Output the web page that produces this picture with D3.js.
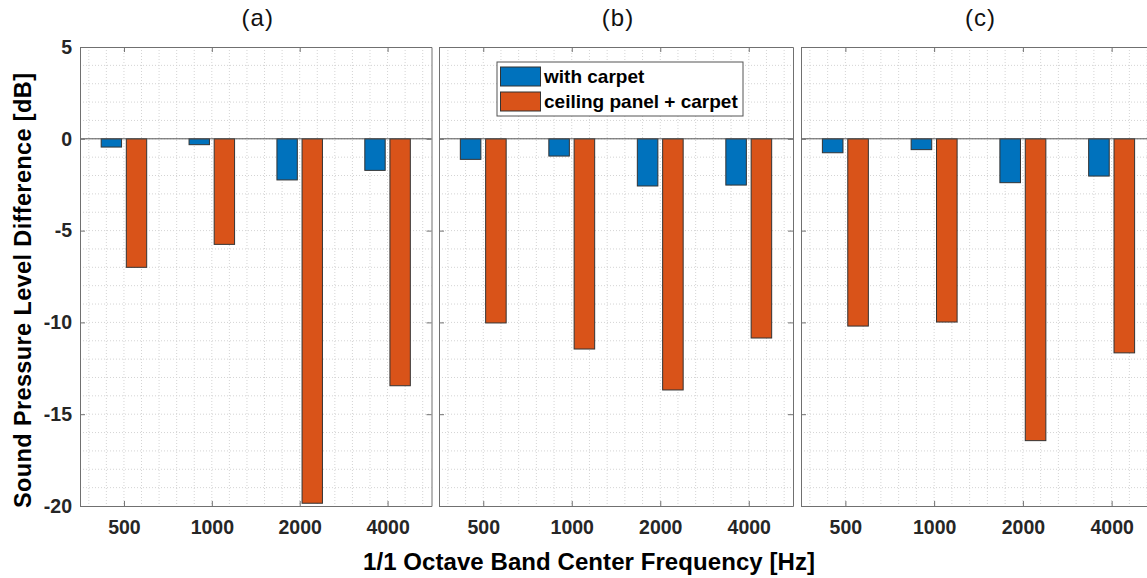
<!DOCTYPE html>
<html lang="en">
<head>
  <meta charset="UTF-8">
  <title>Sound Pressure Level Difference</title>
  <script src="https://d3js.org/d3.v7.min.js"></script>
  <style>
    body { margin: 0; background: #fff; }
    text { font-family: "Liberation Sans", Arial, sans-serif; }
  </style>
</head>
<body>
  <div id="chart"></div>

  <script>
    // categories and tick labels
    const bands = ["500", "1000", "2000", "4000"];
    const panelTitles = ["(a)", "(b)", "(c)"];
    const yTicks = [5, 0, -5, -10, -15, -20];
    const seriesNames = ["with carpet", "ceiling panel + carpet"];

    // values [dB]
    const carpetA = [-0.45, -0.32, -2.24, -1.72];
    const panelCarpetA = [-7.0, -5.75, -19.85, -13.45];
    const carpetB = [-1.12, -0.94, -2.57, -2.52];
    const panelCarpetB = [-10.03, -11.45, -13.68, -10.85];
    const carpetC = [-0.76, -0.59, -2.39, -2.03];
    const panelCarpetC = [-10.2, -9.98, -16.44, -11.66];

    const panels = [
      { title: panelTitles[0], s1: carpetA, s2: panelCarpetA, left: 80, right: 431.5 },
      { title: panelTitles[1], s1: carpetB, s2: panelCarpetB, left: 439, right: 793 },
      { title: panelTitles[2], s1: carpetC, s2: panelCarpetC, left: 801, right: 1156 }
    ];

    const colors = ["#0072BD", "#D95319"];
    const width = 1147, height = 578;
    const plotTop = 47, plotBottom = 506;

    const svg = d3.select("#chart").append("svg")
      .attr("width", width)
      .attr("height", height);

    const y = d3.scaleLinear().domain([-20, 5]).range([plotBottom, plotTop]);

    panels.forEach((p, pi) => {
      const x = d3.scaleLinear().domain([0.5, 4.5]).range([p.left, p.right]);
      const g = svg.append("g");

      // minor grid (dotted)
      const gx = d3.range(0.6, 4.41, 0.2);
      g.selectAll(".vgrid").data(gx).enter().append("line")
        .attr("x1", d => x(d)).attr("x2", d => x(d))
        .attr("y1", plotTop).attr("y2", plotBottom)
        .attr("stroke", "#d4d4d4").attr("stroke-dasharray", "1,2");
      const gy = d3.range(-19, 5, 1);
      g.selectAll(".hgrid").data(gy).enter().append("line")
        .attr("x1", p.left).attr("x2", p.right)
        .attr("y1", d => y(d)).attr("y2", d => y(d))
        .attr("stroke", "#d4d4d4").attr("stroke-dasharray", "1,2");

      // bars
      const offs = [-0.143, 0.143];
      const bw = 0.232;
      [p.s1, p.s2].forEach((vals, si) => {
        g.selectAll(".bar" + si).data(vals).enter().append("rect")
          .attr("x", (d, i) => x(i + 1 + offs[si] - bw / 2))
          .attr("width", x(bw) - x(0))
          .attr("y", d => y(Math.max(0, d)))
          .attr("height", d => Math.abs(y(d) - y(0)))
          .attr("fill", colors[si])
          .attr("stroke", "#333")
          .attr("stroke-width", 1);
      });

      // baseline
      g.append("line")
        .attr("x1", p.left).attr("x2", p.right)
        .attr("y1", y(0)).attr("y2", y(0))
        .attr("stroke", "#555").attr("stroke-width", 1);

      // axes (box with inward ticks)
      const xb = d3.axisBottom(x).tickValues([1, 2, 3, 4])
        .tickFormat(d => bands[d - 1]).tickSizeInner(-5).tickSizeOuter(0).tickPadding(14);
      const xt = d3.axisTop(x).tickValues([1, 2, 3, 4]).tickFormat("").tickSizeInner(-5).tickSizeOuter(0);
      const yl = d3.axisLeft(y).tickValues(yTicks).tickSizeInner(-5).tickSizeOuter(0).tickPadding(8)
        .tickFormat(d => pi === 0 ? d : "");
      const yr = d3.axisRight(y).tickValues(yTicks).tickFormat("").tickSizeInner(-5).tickSizeOuter(0);

      const axes = [
        g.append("g").attr("transform", `translate(0,${plotBottom})`).call(xb),
        g.append("g").attr("transform", `translate(0,${plotTop})`).call(xt),
        g.append("g").attr("transform", `translate(${p.left},0)`).call(yl),
        g.append("g").attr("transform", `translate(${p.right},0)`).call(yr)
      ];
      axes.forEach(a => {
        a.selectAll("path, line").attr("stroke", "#707070");
        a.selectAll("text")
          .attr("fill", "#262626")
          .style("font-size", "19.5px")
          .style("font-weight", "bold");
      });

      // panel title
      svg.append("text")
        .attr("x", (p.left + p.right) / 2 + 2)
        .attr("y", 26)
        .attr("text-anchor", "middle")
        .style("font-size", "24px")
        .attr("letter-spacing", "1px")
        .attr("fill", "#111")
        .text(p.title);
    });

    // legend in panel (b)
    const lg = svg.append("g").attr("transform", "translate(497,62)");
    lg.append("rect")
      .attr("width", 246).attr("height", 54)
      .attr("fill", "#fff").attr("stroke", "#555");
    seriesNames.forEach((name, i) => {
      lg.append("rect")
        .attr("x", 3.5).attr("y", 5 + i * 25)
        .attr("width", 40).attr("height", 19)
        .attr("fill", colors[i]).attr("stroke", "#333");
      lg.append("text")
        .attr("x", 47).attr("y", 21 + i * 25)
        .style("font-size", "19px").style("font-weight", "bold")
        .attr("fill", "#000")
        .text(name);
    });

    // axis labels
    svg.append("text")
      .attr("transform", "translate(31,290.5) rotate(-90)")
      .attr("text-anchor", "middle")
      .attr("textLength", 435).attr("lengthAdjust", "spacing")
      .style("font-size", "23.5px").style("font-weight", "bold")
      .text("Sound Pressure Level Difference [dB]");

    svg.append("text")
      .attr("x", 589).attr("y", 570)
      .attr("text-anchor", "middle")
      .attr("textLength", 452).attr("lengthAdjust", "spacing")
      .style("font-size", "24px").style("font-weight", "bold")
      .text("1/1 Octave Band Center Frequency [Hz]");
  </script>
</body>
</html>
